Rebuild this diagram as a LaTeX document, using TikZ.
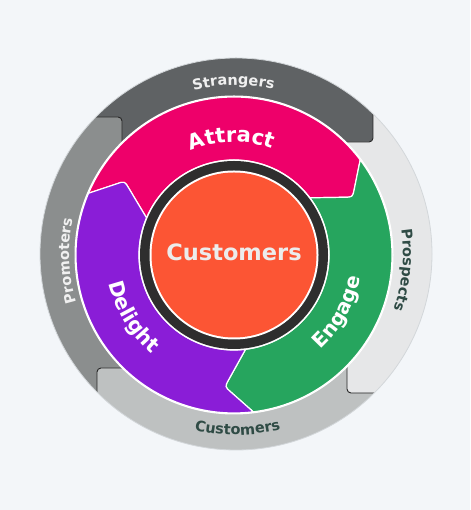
\documentclass[tikz,border=0pt]{standalone}
\usepackage{fontspec}
\setmainfont{DejaVu Sans}
\usetikzlibrary{decorations.text,calc}
\definecolor{bg}{HTML}{F3F6F9}
\definecolor{cStrangers}{HTML}{5F6264}
\definecolor{cPromoters}{HTML}{8B8E8E}
\definecolor{cProspects}{HTML}{E6E7E8}
\definecolor{cCustomers}{HTML}{BEC1C1}
\definecolor{cAttract}{HTML}{EE006A}
\definecolor{cEngage}{HTML}{26A55E}
\definecolor{cDelight}{HTML}{8A1DD7}
\definecolor{cCore}{HTML}{FC5534}
\definecolor{cRing}{HTML}{2E2E2E}
\definecolor{darktext}{HTML}{2F4B45}
\definecolor{lighttext}{HTML}{F0F0F0}
\definecolor{coretext}{HTML}{ECECEC}
\definecolor{rimline}{HTML}{D3D7DA}
\tikzset{
  graypart/.style={rounded corners=4pt},
  tabline/.style={draw=black!85, line width=0.9pt, rounded corners=4pt},
  seg/.style={draw=white, line width=1.2pt},
}
\begin{document}
\begin{tikzpicture}[x=1pt,y=1pt]
\useasboundingbox (0,0) rectangle (470,510);
\fill[bg] (0,0) rectangle (470,510);
\coordinate (O) at (236,256);
\coordinate (C) at (234,255);
% outer gray ring
\begin{scope}
\clip (O) circle[radius=196];
\fill[cStrangers, graypart] (-50,393) -- (122,393) -- (122,300) -- (236,256) -- (300,368) -- (373,368) -- (373,560) -- (-50,560) -- cycle;
\fill[cPromoters, graypart] (-50,393) -- (122,393) -- (122,300) -- (236,256) -- (180,142) -- (97,142) -- (97,-50) -- (-50,-50) -- cycle;
\fill[cProspects, graypart] (373,560) -- (373,368) -- (300,368) -- (236,256) -- (347,200) -- (347,117) -- (520,117) -- (520,560) -- cycle;
\fill[cCustomers, graypart] (520,117) -- (347,117) -- (347,200) -- (236,256) -- (180,142) -- (97,142) -- (97,-50) -- (520,-50) -- cycle;
\draw[tabline] (60,393) -- (122,393) -- (122,330);
\draw[tabline] (373,480) -- (373,368) -- (320,368);
\draw[tabline] (420,117) -- (347,117) -- (347,170);
\draw[tabline] (97,30) -- (97,142) -- (150,142);
\end{scope}
\draw[rimline, line width=0.8pt] (O) circle[radius=196];
% colored ring: boundary points
\foreach \n/\a in {a/157, b/37, c/-83}{
  \coordinate (O\n) at ([shift={(\a:158)}]C);
  \coordinate (I\n) at ([shift={(\a:95)}]C);
  \coordinate (T\n) at ([shift={(\a-11:132)}]C);
  \coordinate (U\n) at ($(T\n)!8pt!(O\n)$);
  \coordinate (V\n) at ($(T\n)!8pt!(I\n)$);
}
\fill[white] (C) circle[radius=159.5];
\filldraw[seg, fill=cAttract] (Oa) -- (Ua) .. controls (Ta) .. (Va) -- (Ia) arc[start angle=157, end angle=37, radius=95] -- (Vb) .. controls (Tb) .. (Ub) -- (Ob) arc[start angle=37, end angle=157, radius=158] -- cycle;
\filldraw[seg, fill=cEngage] (Ob) -- (Ub) .. controls (Tb) .. (Vb) -- (Ib) arc[start angle=37, end angle=-83, radius=95] -- (Vc) .. controls (Tc) .. (Uc) -- (Oc) arc[start angle=-83, end angle=37, radius=158] -- cycle;
\filldraw[seg, fill=cDelight] (Oc) -- (Uc) .. controls (Tc) .. (Vc) -- (Ic) arc[start angle=-83, end angle=-203, radius=95] -- (Va) .. controls (Ta) .. (Ua) -- (Oa) arc[start angle=-203, end angle=-83, radius=158] -- cycle;
% core
\fill[white] (C) circle[radius=95.5];
\fill[cRing] (C) circle[radius=94];
\fill[white] (C) circle[radius=84.5];
\fill[cCore] (C) circle[radius=82.5];
\node[font=\fontsize{22.5}{22.5}\selectfont\bfseries, text=coretext, anchor=base, inner sep=0pt] (core) at (234,249.5) {Customers};
% outer labels
\path[decorate, decoration={text along path, text align=center, text color=lighttext, text={|\fontsize{14.5}{14.5}\selectfont\bfseries|Strangers}}] ([shift={(140.85:169)}]O) arc[start angle=140.85, end angle=40.85, radius=169];
\path[decorate, decoration={text along path, text align=center, text color=lighttext, text={|\fontsize{14.5}{14.5}\selectfont\bfseries|Promoters}}] ([shift={(232.4:167)}]O) arc[start angle=232.4, end angle=132.4, radius=167];
\path[decorate, decoration={text along path, text align=center, text color=darktext, text={|\fontsize{14.5}{14.5}\selectfont\bfseries|Prospects}}] ([shift={(44.5:167)}]O) arc[start angle=44.5, end angle=-55.5, radius=167];
\path[decorate, decoration={text along path, text align=center, text color=darktext, text={|\fontsize{14.5}{14.5}\selectfont\bfseries|Customers}}] ([shift={(220.5:181)}]O) arc[start angle=220.5, end angle=320.5, radius=181];
% ring labels
\path[decorate, decoration={text along path, text align=center, text color=white, text={|\fontsize{21}{21}\selectfont\bfseries|Attract}}] ([shift={(151.3:113)}]C) arc[start angle=151.3, end angle=31.3, radius=113];
\path[decorate, decoration={text along path, text align=center, text color=white, text={|\fontsize{20.5}{20.5}\selectfont\bfseries|Delight}}] ([shift={(151.5:128)}]C) arc[start angle=151.5, end angle=271.5, radius=128];
\path[decorate, decoration={text along path, text align=center, text color=white, text={|\fontsize{20}{20}\selectfont\bfseries|Engage}}] ([shift={(-88.8:128)}]C) arc[start angle=-88.8, end angle=31.2, radius=128];
\end{tikzpicture}
\end{document}
